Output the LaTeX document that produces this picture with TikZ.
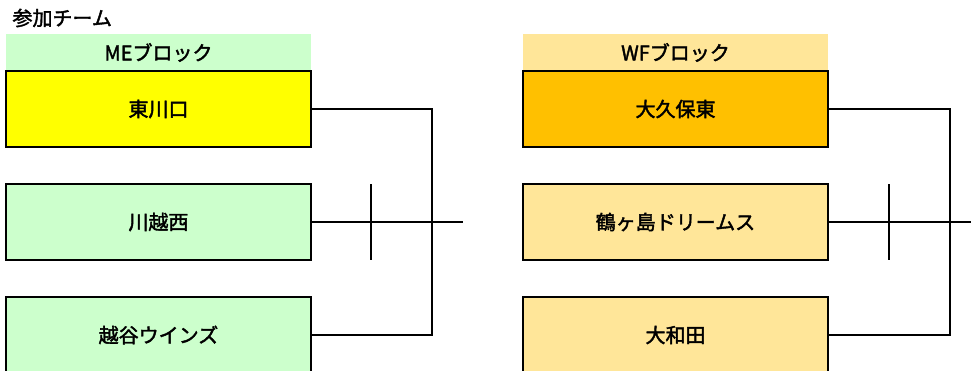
\documentclass[tikz,border=0pt]{standalone}
\usepackage{fontspec}
\setmainfont{Noto Sans CJK JP}[FakeBold=2]
\usepackage{tikz}
\usetikzlibrary{positioning}
\definecolor{megreen}{HTML}{CCFFCC}
\definecolor{meyellow}{HTML}{FFFF00}
\definecolor{wflight}{HTML}{FFE699}
\definecolor{wforange}{HTML}{FFC000}
\tikzset{font=\fontsize{20}{24}\selectfont}
\tikzset{blockhead/.style={minimum width=305pt,minimum height=37pt,inner sep=0pt,outer sep=0pt}}
\tikzset{team/.style={draw,line width=1.6pt,minimum width=305pt,minimum height=76pt,inner sep=0pt,outer sep=0pt}}
\tikzset{bracket/.style={line width=1.4pt}}

\begin{document}
\begin{tikzpicture}[x=1pt,y=-1pt]
  \clip (0,0) rectangle (971,370);
  \node[anchor=west] (title) at (9,18) {参加チーム};

  % ME block
  \node[blockhead,fill=megreen,anchor=north west] (mehead) at (6,34) {MEブロック};
  \node[team,fill=meyellow,below=0pt of mehead] (me1) {東川口};
  \node[team,fill=megreen,below=37pt of me1] (me2) {川越西};
  \node[team,fill=megreen,below=37pt of me2] (me3) {越谷ウインズ};
  \coordinate (mejoin) at (432,0);
  \coordinate (metick) at (371,0);
  \coordinate (meout) at (463,0);
  \draw[bracket] (me1.east) -| (me3.east -| mejoin) -- (me3.east);
  \draw[bracket] (me2.east) -- (me2.east -| meout);
  \draw[bracket] (me2.north -| metick) -- (me2.south -| metick);

  % WF block
  \node[blockhead,fill=wflight,anchor=north west] (wfhead) at (523,34) {WFブロック};
  \node[team,fill=wforange,below=0pt of wfhead] (wf1) {大久保東};
  \node[team,fill=wflight,below=37pt of wf1] (wf2) {鶴ヶ島ドリームス};
  \node[team,fill=wflight,below=37pt of wf2] (wf3) {大和田};
  \coordinate (wfjoin) at (950,0);
  \coordinate (wftick) at (889,0);
  \coordinate (wfout) at (971,0);
  \draw[bracket] (wf1.east) -| (wf3.east -| wfjoin) -- (wf3.east);
  \draw[bracket] (wf2.east) -- (wf2.east -| wfout);
  \draw[bracket] (wf2.north -| wftick) -- (wf2.south -| wftick);
\end{tikzpicture}
\end{document}
